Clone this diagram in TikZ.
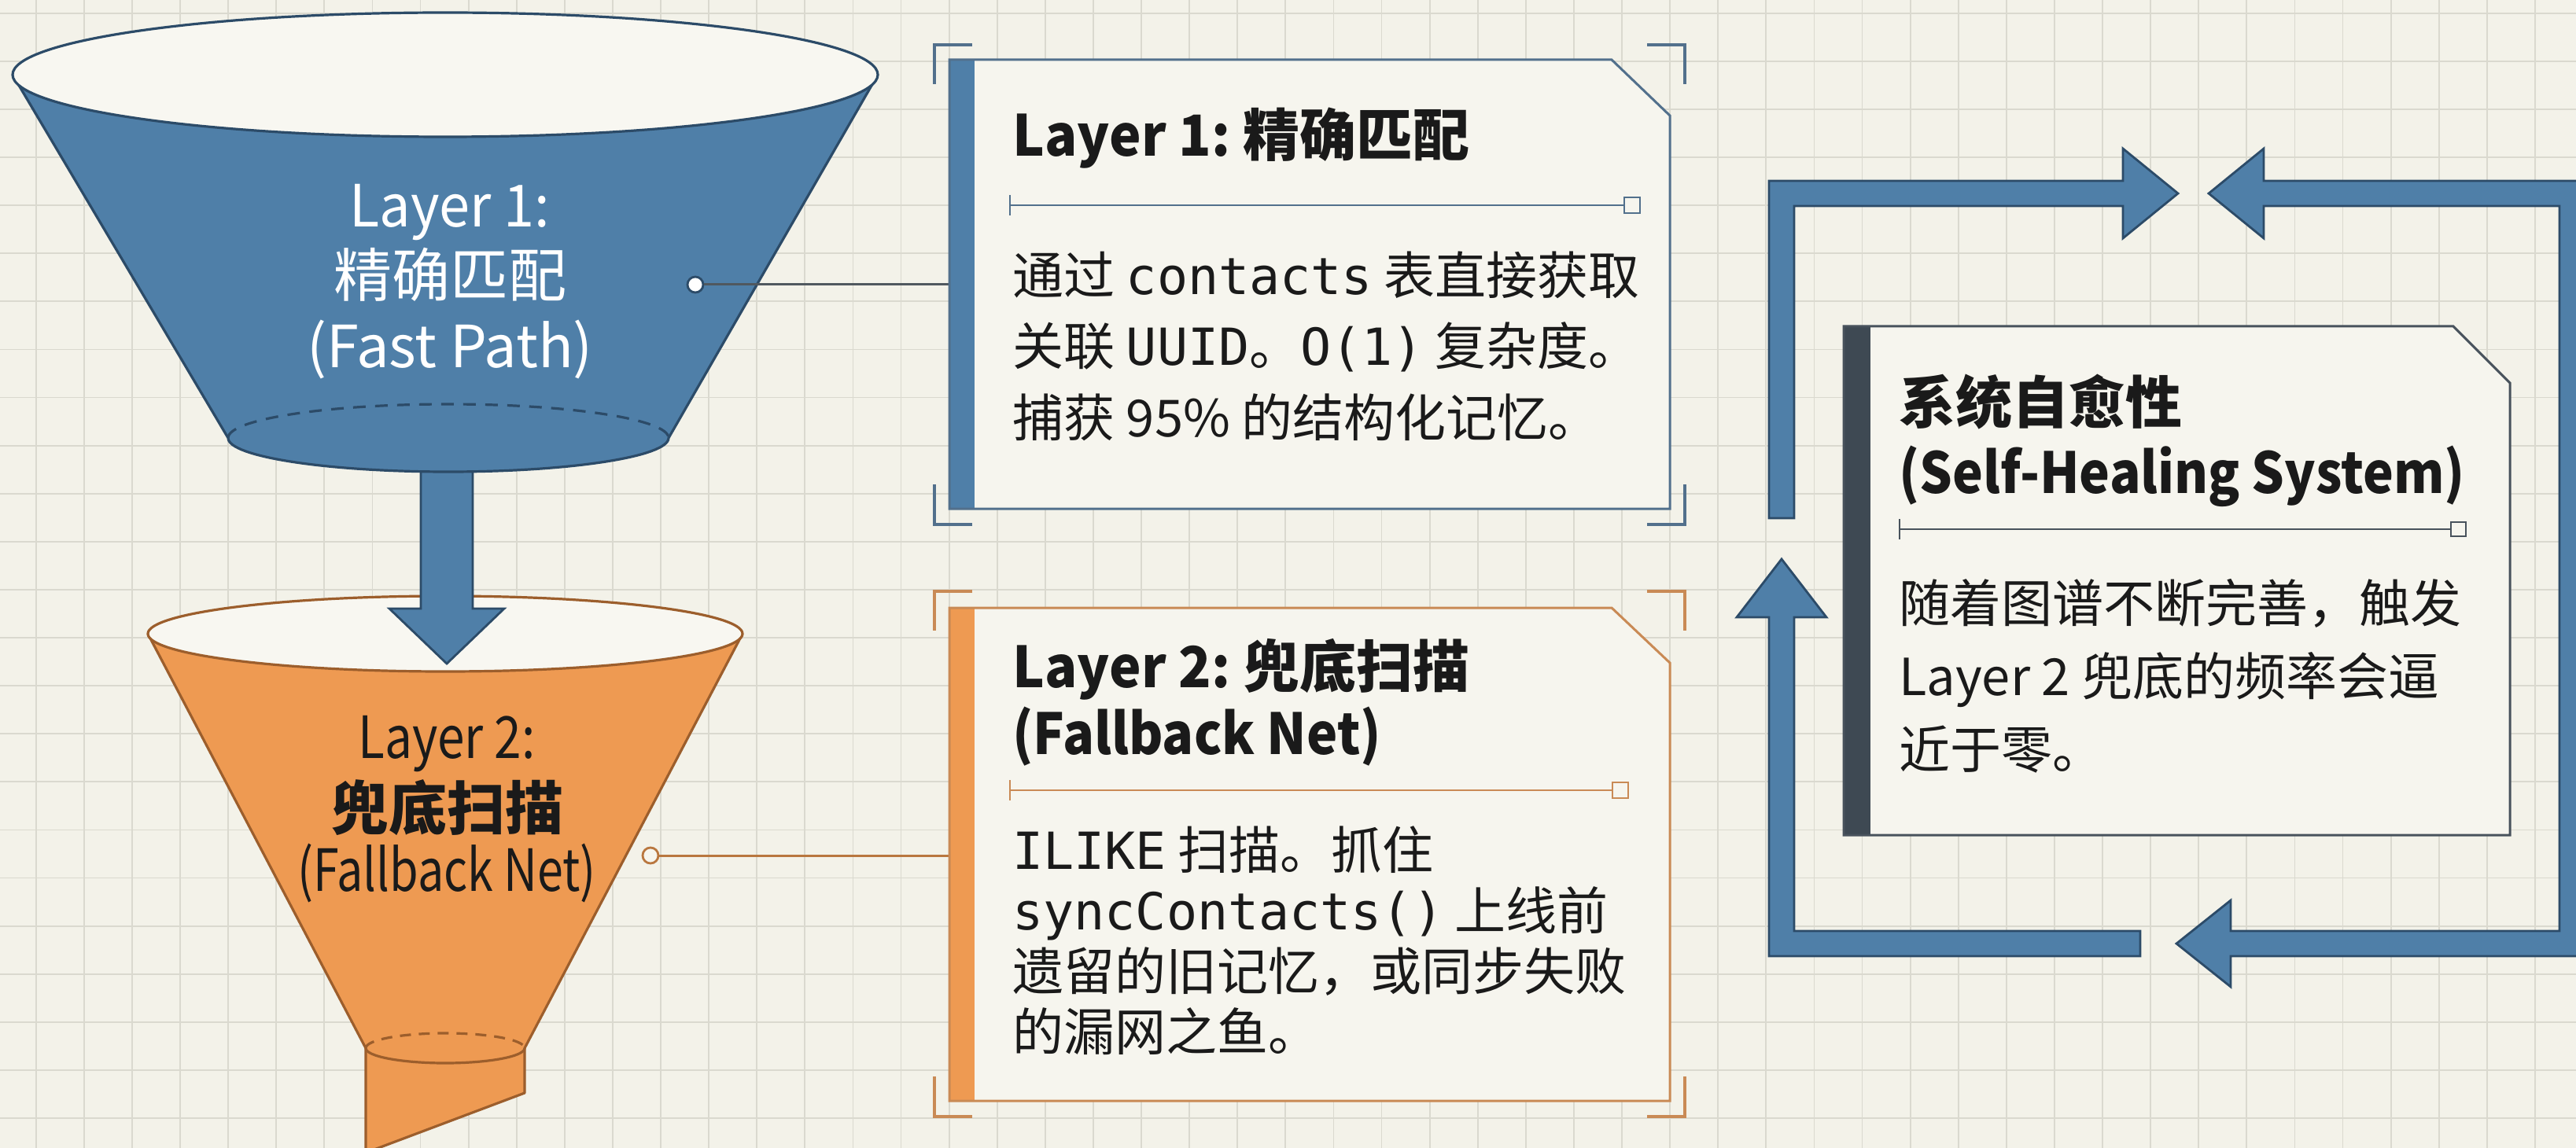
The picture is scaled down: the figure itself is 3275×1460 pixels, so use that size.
\documentclass[tikz,border=0pt]{standalone}
\usepackage{fontspec}
\setmainfont{Noto Sans CJK SC}
\setmonofont{DejaVu Sans Mono}
\definecolor{bg}{HTML}{F3F2E9}
\definecolor{gridc}{HTML}{DAD9CF}
\definecolor{rim}{HTML}{F8F7F1}
\definecolor{blueF}{HTML}{4F7FA8}
\definecolor{blueD}{HTML}{2C4B68}
\definecolor{orF}{HTML}{EE9A52}
\definecolor{orD}{HTML}{9C5E2C}
\definecolor{boxbg}{HTML}{F6F5EE}
\definecolor{bOne}{HTML}{52708C}
\definecolor{bTwo}{HTML}{C98A55}
\definecolor{bThree}{HTML}{48525C}
\definecolor{barThree}{HTML}{3E4953}
\definecolor{txt}{HTML}{1A1A1A}
\definecolor{conOne}{HTML}{50585F}
\definecolor{conTwo}{HTML}{B9773F}
\newcommand{\narrowtxt}[2]{\scalebox{#1}[1]{#2}}
\begin{document}
\begin{tikzpicture}[x=0.5pt,y=-0.5pt,
  gridln/.style={draw=gridc,line width=0.9pt},
  fline/.style={line width=1.6pt,line join=round},
  funtxt/.style={font=\fontsize{37}{44}\selectfont,anchor=base,inner sep=0pt},
  ttl/.style={font=\fontsize{36}{43}\selectfont\bfseries,anchor=base west,inner sep=0pt,text=txt},
  bdy/.style={font=\fontsize{32.5}{39}\selectfont,anchor=base west,inner sep=0pt,text=txt},
  boxn/.style={inner sep=0pt,outer sep=0pt,draw=none},
  brk/.style={line width=2pt},
  divl/.style={line width=1pt},
  loopar/.style={fill=blueF,draw=blueD,line width=1.4pt,line join=miter},
  dotn/.style={circle,inner sep=0pt,minimum size=10pt,line width=1.4pt}
]
\useasboundingbox (0,0) rectangle (3275,1460);
\fill[bg] (0,0) rectangle (3275,1460);
\foreach \i in {0,...,53} \draw[gridln] ({45.7+61.1*\i},0) -- ({45.7+61.1*\i},1460);
\foreach \j in {0,...,23} \draw[gridln] (0,{16.7+61.1*\j}) -- (3275,{16.7+61.1*\j});

% ---------- Funnel 2 (orange) ----------
\fill[orF] (188,806) -- (465,1333) arc[start angle=180,end angle=360,x radius=50.5pt,y radius=9.5pt] -- (944,806) arc[start angle=0,end angle=-180,x radius=189pt,y radius=24pt] -- cycle;
\fill[orF] (465,1333) -- (465,1466) -- (667,1390) -- (667,1333) -- cycle;
\draw[orD,fline] (465,1333) -- (465,1466) -- (667,1390) -- (667,1333);
\draw[orD,fline] (188,806) -- (465,1333) arc[start angle=180,end angle=360,x radius=50.5pt,y radius=9.5pt] -- (944,806);
\draw[orD,fline,dash pattern=on 7pt off 5pt] (465,1333) arc[start angle=180,end angle=0,x radius=50.5pt,y radius=9.5pt];
\draw[orD,fline,fill=rim] (566,806) ellipse[x radius=189pt,y radius=24pt];

% ---------- arrow between funnels ----------
\filldraw[fill=blueF,draw=blueD,line width=1.4pt] (535,560) -- (535,774) -- (495,774) -- (568,844) -- (641,774) -- (601,774) -- (601,560) -- cycle;

% ---------- Funnel 1 (blue) ----------
\fill[blueF] (16,95) -- (290,557) arc[start angle=180,end angle=360,x radius=140pt,y radius=21.5pt] -- (1116,95) arc[start angle=0,end angle=-180,x radius=275pt,y radius=39.5pt] -- cycle;
\draw[blueD,fline] (16,95) -- (290,557) arc[start angle=180,end angle=360,x radius=140pt,y radius=21.5pt] -- (1116,95);
\draw[blueD,fline,dash pattern=on 8pt off 6pt] (290,557) arc[start angle=180,end angle=0,x radius=140pt,y radius=21.5pt];
\draw[blueD,fline,fill=rim] (566,95) ellipse[x radius=275pt,y radius=39.5pt];

% funnel texts
\node[funtxt,text=white] (f1a) at (572,289) {\narrowtxt{0.95}{Layer 1:}};
\node[funtxt,text=white] (f1b) at (572,378) {精确匹配};
\node[funtxt,text=white] (f1c) at (572,467) {(Fast Path)};
\node[funtxt,text=txt] (f2a) at (568,964) {\narrowtxt{0.84}{Layer 2:}};
\node[funtxt,text=txt,font=\fontsize{37}{44}\selectfont\bfseries] (f2b) at (568,1055) {兜底扫描};
\node[funtxt,text=txt] (f2c) at (568,1133) {\narrowtxt{0.8}{(Fallback Net)}};

% ---------- box anchors ----------
\node[boxn,minimum width=458pt,minimum height=285.5pt] (box1) at (1665,361.5) {};
\node[boxn,minimum width=458pt,minimum height=313.5pt] (box2) at (1665,1086.5) {};
\node[boxn,minimum width=423.5pt,minimum height=323.5pt] (box3) at (2767.5,738.5) {};

% connectors
\node[dotn,fill=white,draw=blueD] (dot1) at (884,362) {};
\node[dotn,fill=boxbg,draw=conTwo] (dot2) at (827,1088) {};
\draw[conOne,line width=1.5pt] (dot1.east) -- (dot1 -| box1.west);
\draw[conTwo,line width=1.5pt] (dot2.east) -- (dot2 -| box2.west);

% ---------- box 1 ----------
\fill[boxbg] (box1.north west) -- ([xshift=-37pt]box1.north east) -- ([yshift=-35.5pt]box1.north east) -- (box1.south east) -- (box1.south west) -- cycle;
\fill[blueF] (box1.north west) rectangle ([xshift=16pt]box1.south west);
\draw[bOne,line width=1.5pt] (box1.north west) -- ([xshift=-37pt]box1.north east) -- ([yshift=-35.5pt]box1.north east) -- (box1.south east) -- (box1.south west) -- cycle;
\draw[bOne,brk] (1236,57) -- (1188,57) -- (1188,107);
\draw[bOne,brk] (2094,57) -- (2142,57) -- (2142,107);
\draw[bOne,brk] (1236,667) -- (1188,667) -- (1188,616);
\draw[bOne,brk] (2094,667) -- (2142,667) -- (2142,616);
\draw[bOne,divl] (1284,261) -- (2065,261);
\draw[bOne,divl] (1284,248) -- (1284,274);
\draw[bOne,divl,fill=boxbg] (2065,251) rectangle (2085,271);
\node[ttl] (t1) at (1287,199) {\narrowtxt{0.95}{Layer 1:} 精确匹配};
\node[bdy] (t1a) at (1287,375) {通过 \texttt{contacts} 表直接获取};
\node[bdy] (t1b) at (1287,465) {关联 \texttt{UUID}。\texttt{O(1)} 复杂度。};
\node[bdy] (t1c) at (1287,555) {捕获 95\% 的结构化记忆。};

% ---------- box 2 ----------
\fill[boxbg] (box2.north west) -- ([xshift=-37pt]box2.north east) -- ([yshift=-35pt]box2.north east) -- (box2.south east) -- (box2.south west) -- cycle;
\fill[orF] (box2.north west) rectangle ([xshift=16pt]box2.south west);
\draw[bTwo,line width=1.5pt] (box2.north west) -- ([xshift=-37pt]box2.north east) -- ([yshift=-35pt]box2.north east) -- (box2.south east) -- (box2.south west) -- cycle;
\draw[bTwo,brk] (1236,752) -- (1188,752) -- (1188,802);
\draw[bTwo,brk] (2094,752) -- (2142,752) -- (2142,802);
\draw[bTwo,brk] (1236,1420) -- (1188,1420) -- (1188,1369);
\draw[bTwo,brk] (2094,1420) -- (2142,1420) -- (2142,1369);
\draw[bTwo,divl] (1284,1005) -- (2050,1005);
\draw[bTwo,divl] (1284,992) -- (1284,1018);
\draw[bTwo,divl,fill=boxbg] (2050,995) rectangle (2070,1015);
\node[ttl] (t2) at (1287,874) {\narrowtxt{0.95}{Layer 2:} 兜底扫描};
\node[ttl] (t2s) at (1287,959) {\narrowtxt{0.92}{(Fallback Net)}};
\node[bdy] (t2a) at (1287,1105) {\texttt{ILIKE} 扫描。抓住};
\node[bdy] (t2b) at (1287,1182) {\texttt{syncContacts()} 上线前};
\node[bdy] (t2c) at (1287,1259) {遗留的旧记忆，或同步失败};
\node[bdy] (t2d) at (1287,1336) {的漏网之鱼。};

% ---------- box 3 ----------
\fill[boxbg] (box3.north west) -- ([xshift=-36pt]box3.north east) -- ([yshift=-36pt]box3.north east) -- (box3.south east) -- (box3.south west) -- cycle;
\fill[barThree] (box3.north west) rectangle ([xshift=17pt]box3.south west);
\draw[bThree,line width=1.5pt] (box3.north west) -- ([xshift=-36pt]box3.north east) -- ([yshift=-36pt]box3.north east) -- (box3.south east) -- (box3.south west) -- cycle;
\draw[bThree,divl] (2415,673) -- (3116,673);
\draw[bThree,divl] (2415,660) -- (2415,686);
\draw[bThree,divl,fill=boxbg] (3116,664) rectangle (3135,682);
\node[ttl] (t3) at (2414,538) {系统自愈性};
\node[ttl] (t3s) at (2414,627) {\narrowtxt{0.91}{(Self-Healing System)}};
\node[bdy] (t3a) at (2414,791) {随着图谱不断完善，触发};
\node[bdy] (t3b) at (2414,884) {Layer 2 兜底的频率会逼};
\node[bdy] (t3c) at (2414,977) {近于零。};

% ---------- feedback loop ----------
\draw[loopar] (2249,659) -- (2249,230) -- (2699,230) -- (2699,189) -- (2769,246) -- (2699,303) -- (2699,262) -- (2281,262) -- (2281,659) -- cycle;
\draw[loopar] (2808,246) -- (2878,189) -- (2878,230) -- (3286,230) -- (3286,1216) -- (2836,1216) -- (2836,1255) -- (2767,1200) -- (2836,1145) -- (2836,1184) -- (3254,1184) -- (3254,262) -- (2878,262) -- (2878,303) -- cycle;
\draw[loopar] (2721,1184) -- (2281,1184) -- (2281,785) -- (2322,785) -- (2265,711) -- (2208,785) -- (2249,785) -- (2249,1216) -- (2721,1216) -- cycle;
\end{tikzpicture}
\end{document}
